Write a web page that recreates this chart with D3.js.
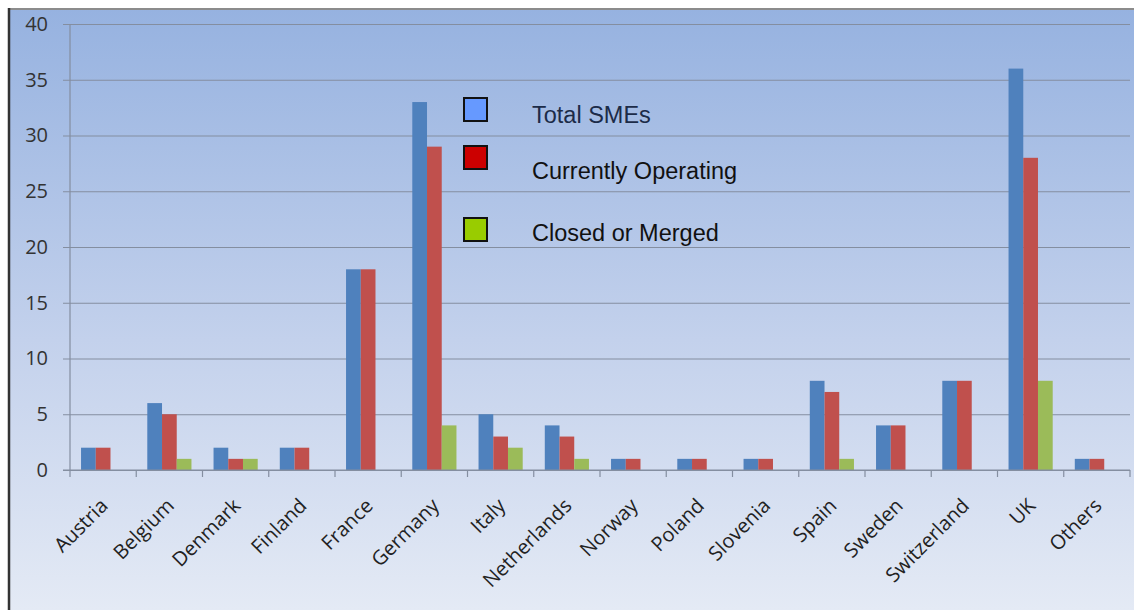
<!DOCTYPE html>
<html>
<head>
<meta charset="utf-8">
<script src="https://cdn.jsdelivr.net/npm/d3@7"></script>
<style>
  body { margin: 0; background: #fff; }
  svg { display: block; }
</style>
</head>
<body>
<div id="chart"></div>
<script>
var svgWidth = 1134;
var svgHeight = 610;
var margin = ({top: 24, right: 4, bottom: 140, left: 70});

var countries = ["Austria", "Belgium", "Denmark", "Finland", "France", "Germany", "Italy",
  "Netherlands", "Norway", "Poland", "Slovenia", "Spain", "Sweden", "Switzerland", "UK", "Others"];
var totalSMEs = [2, 6, 2, 2, 18, 33, 5, 4, 1, 1, 1, 8, 4, 8, 36, 1];
var operating = [2, 5, 1, 2, 18, 29, 3, 3, 1, 1, 1, 7, 4, 8, 28, 1];
var closedMerged = [0, 1, 1, 0, 0, 4, 2, 1, 0, 0, 0, 1, 0, 0, 8, 0];
var seriesNames = ["Total SMEs", "Currently Operating", "Closed or Merged"];
var yTicks = [0, 5, 10, 15, 20, 25, 30, 35, 40];

var barColors = ["#4f81bd", "#c0504d", "#9bbb59"];
var legendColors = ["#6699ff", "#cc0000", "#99cc00"];

var data = countries.map((c, i) => ({name: c, values: [totalSMEs[i], operating[i], closedMerged[i]]}));

var svg = d3.select("#chart").append("svg")
  .attr("width", svgWidth)
  .attr("height", svgHeight);

// background gradient
var grad = svg.append("defs").append("linearGradient")
  .attr("id", "bg").attr("x1", 0).attr("y1", 0).attr("x2", 0).attr("y2", 1);
grad.append("stop").attr("offset", "0%").attr("stop-color", "#96b2e0");
grad.append("stop").attr("offset", "55%").attr("stop-color", "#c3d1ec");
grad.append("stop").attr("offset", "100%").attr("stop-color", "#e4eaf5");

svg.append("rect")
  .attr("x", 9).attr("y", 9)
  .attr("width", svgWidth - 9).attr("height", svgHeight - 9)
  .attr("fill", "url(#bg)");
svg.append("line").attr("x1", 9).attr("x2", svgWidth).attr("y1", 9).attr("y2", 9)
  .attr("stroke", "#8c8c8c").attr("stroke-width", 2);
svg.append("line").attr("x1", 9).attr("x2", 9).attr("y1", 8).attr("y2", svgHeight)
  .attr("stroke", "#333").attr("stroke-width", 2.5);

var plotW = svgWidth - margin.left - margin.right;
var plotH = svgHeight - margin.top - margin.bottom;

var x0 = d3.scaleBand().domain(countries).range([0, plotW]).paddingInner(0).paddingOuter(0);
var x1 = d3.scaleBand().domain([0, 1, 2]).range([x0.bandwidth() / 6, x0.bandwidth() * 5 / 6]);
var y = d3.scaleLinear().domain([0, 40]).range([plotH, 0]);

var g = svg.append("g").attr("transform", "translate(" + margin.left + "," + margin.top + ")");

// gridlines + y axis
var yaxis = g.append("g")
  .attr("class", "grid")
  .call(d3.axisLeft(y).tickValues(yTicks).tickSize(-(plotW + 7)).tickPadding(15))
  .attr("transform", "translate(-7,0)");
yaxis.select(".domain").remove();
yaxis.selectAll(".tick line").attr("stroke", "#848ea0").attr("stroke-width", 1.2);
yaxis.selectAll("text")
  .attr("fill", "#333")
  .style("font-family", "'Open Sans', sans-serif")
  .style("font-size", "20px");
g.append("line").attr("x1", 0).attr("x2", 0).attr("y1", 0).attr("y2", plotH)
  .attr("stroke", "#848ea0").attr("stroke-width", 1.2);

// bars
var groups = g.selectAll(".stackg")
  .data(data)
  .enter().append("g")
  .attr("class", "stackg")
  .attr("transform", d => "translate(" + x0(d.name) + ",0)");
groups.selectAll("rect")
  .data(d => d.values.map((v, k) => ({k: k, v: v})).filter(e => e.v > 0))
  .enter().append("rect")
  .attr("x", d => x1(d.k))
  .attr("y", d => y(d.v))
  .attr("width", x1.bandwidth())
  .attr("height", d => plotH - y(d.v))
  .attr("fill", d => barColors[d.k]);

// x axis
var xaxis = g.append("g")
  .attr("transform", "translate(0," + plotH + ")")
  .call(d3.axisBottom(x0).tickSize(0).tickPadding(0));
xaxis.select(".domain").remove();
g.append("line").attr("x1", -7).attr("x2", plotW).attr("y1", plotH).attr("y2", plotH)
  .attr("stroke", "#848ea0").attr("stroke-width", 1.2);
g.selectAll(".xtick")
  .data(countries.concat(["end"]))
  .enter().append("line")
  .attr("class", "xtick")
  .attr("x1", (d, i) => i * x0.step())
  .attr("x2", (d, i) => i * x0.step())
  .attr("y1", plotH).attr("y2", plotH + 7)
  .attr("stroke", "#848ea0").attr("stroke-width", 1.2);
xaxis.selectAll("text")
  .attr("fill", "#222")
  .style("font-family", "'Open Sans', sans-serif")
  .style("font-size", "20px")
  .style("text-anchor", "end")
  .attr("dy", "0")
  .attr("transform", "translate(6,37) rotate(-45)");

// legend
var legendY = [110, 158, 230];
var textY = [123, 179, 241];
var lg = svg.append("g");
seriesNames.forEach((s, i) => {
  lg.append("rect")
    .attr("x", 464).attr("y", legendY[i] - 12)
    .attr("width", 23).attr("height", 23)
    .attr("fill", legendColors[i])
    .attr("stroke", "#111").attr("stroke-width", 2);
  lg.append("text")
    .attr("x", 532).attr("y", textY[i])
    .attr("fill", i == 0 ? "#1c2b48" : "#111")
    .style("font-family", "'Liberation Sans', Arial, sans-serif")
    .style("font-size", "23.5px")
    .text(s);
});
</script>
</body>
</html>
